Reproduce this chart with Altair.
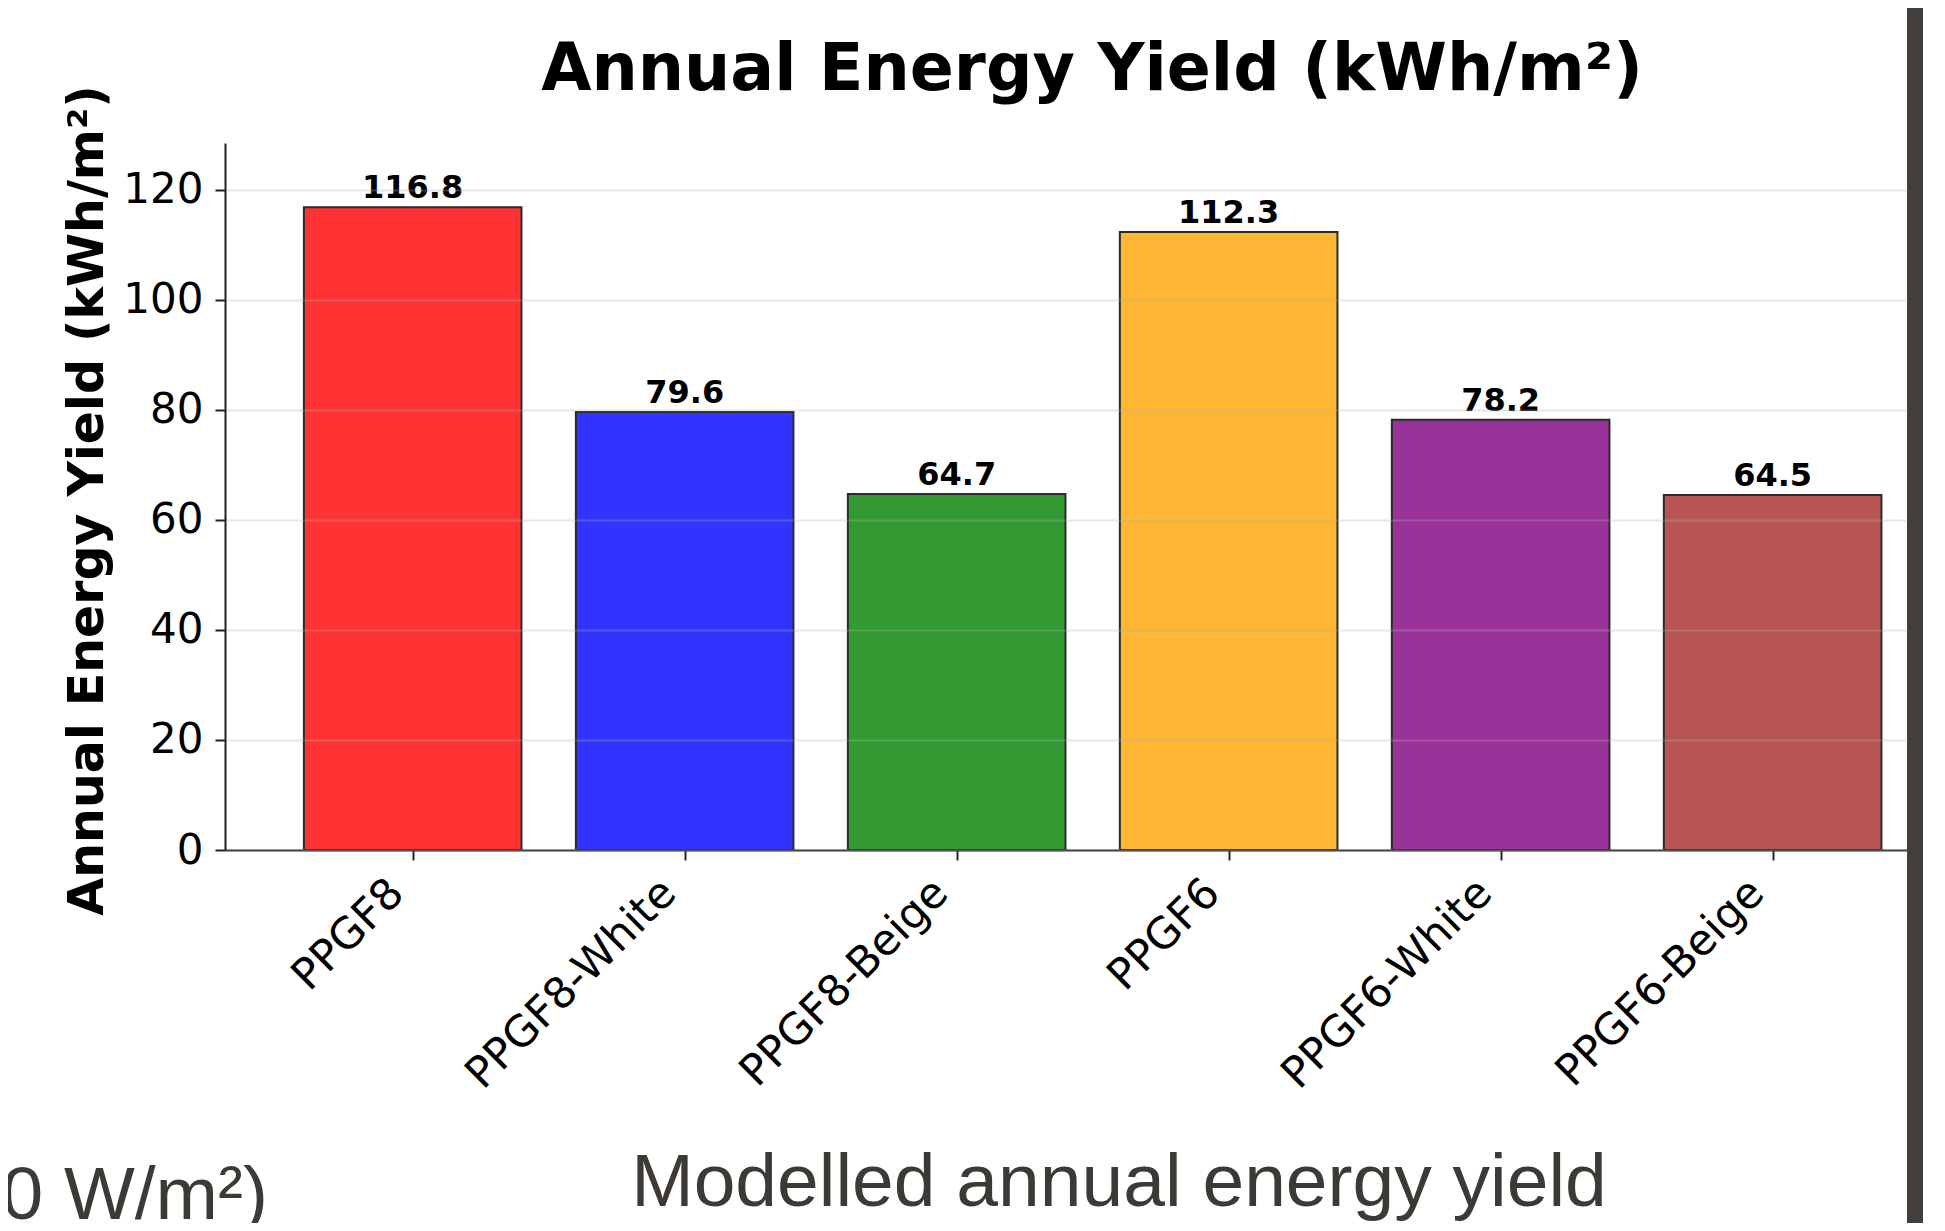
import json
import altair as alt
import pandas as pd

# ---- data ----
categories = ["PPGF8", "PPGF8-White", "PPGF8-Beige", "PPGF6", "PPGF6-White", "PPGF6-Beige"]
values = [116.8, 79.6, 64.7, 112.3, 78.2, 64.5]
bar_colors = ["#ff3333", "#3333ff", "#339933", "#ffb733", "#993399", "#b75555"]
y_ticks = [0, 20, 40, 60, 80, 100, 120]

title_text = "Annual Energy Yield (kWh/m²)"
slide_caption = "Modelled annual energy yield"
slide_left_fragment = "00 W/m²)"

df = pd.DataFrame({
    "category": categories,
    "value": values,
    "idx": list(range(len(categories))),
})
df["x0"] = df["idx"] - 0.4
df["x1"] = df["idx"] + 0.4

PLOT_W = 1682
PLOT_H = 707

x_scale = alt.Scale(domain=[-0.69, 5.494], nice=False, zero=False)
y_scale = alt.Scale(domain=[0, max(values) * 1.1], nice=False)

x_axis = alt.Axis(
    values=list(range(len(categories))),
    labelExpr=f"{json.dumps(categories)}[datum.value]",
    title=None, grid=False,
    tickSize=10, tickWidth=2, tickColor="#222222",
    domainColor="#222222", domainWidth=2,
    labelAngle=-45, labelAlign="right", labelBaseline="top",
    labelFont="DejaVu Sans", labelFontSize=43, labelColor="#000000",
    labelPadding=11, labelOffset=-31, labelOverlap=False, labelFlush=False,
    labelLimit=1000,
)

y_axis = alt.Axis(
    values=y_ticks, grid=True, gridColor="#b0b0b0", gridOpacity=0.3, gridWidth=2,
    tickSize=10, tickWidth=2, tickColor="#222222",
    domainColor="#222222", domainWidth=2,
    labelFont="DejaVu Sans", labelFontSize=42, labelColor="#000000", labelPadding=12,
    title=title_text, titleFont="DejaVu Sans", titleFontSize=49, titleFontWeight="bold",
    titleColor="#000000", titleAngle=270, titleAlign="center", titleBaseline="alphabetic",
    titleX=-123, titleY=357, zindex=1,
)

base = alt.Chart(df)

bars = base.mark_bar(stroke="#2b2b2b", strokeWidth=2).encode(
    x=alt.X("x0:Q", scale=x_scale, axis=x_axis),
    x2="x1:Q",
    y=alt.Y("value:Q", scale=y_scale, axis=y_axis),
    y2=alt.datum(0),
    color=alt.Color("category:N", scale=alt.Scale(domain=categories, range=bar_colors), legend=None),
)

value_labels = base.mark_text(
    font="DejaVu Sans", fontSize=32, fontWeight="bold", color="#000000",
    align="center", baseline="alphabetic", dy=-9,
).encode(
    x=alt.X("idx:Q", scale=x_scale),
    y=alt.Y("value:Q", scale=y_scale),
    text=alt.Text("value:Q", format=".1f"),
)

one = pd.DataFrame({"k": [0]})

title_mark = alt.Chart(one).mark_text(
    text=title_text, font="DejaVu Sans", fontSize=65, fontWeight="bold",
    color="#000000", align="center", baseline="alphabetic",
).encode(x=alt.value(867), y=alt.value(-53))

caption_mark = alt.Chart(one).mark_text(
    text=slide_caption, font="Liberation Sans", fontSize=75,
    color="#3d3935", align="center", baseline="alphabetic",
).encode(x=alt.value(894), y=alt.value(1063))

fragment_mark = alt.Chart(one).mark_text(
    text=slide_left_fragment, font="Liberation Sans", fontSize=75,
    color="#3d3935", align="right", baseline="alphabetic",
).encode(x=alt.value(43), y=alt.value(1076))

divider = alt.Chart(one).mark_rect(color="#433e3a").encode(
    x=alt.value(1682), x2=alt.value(1698), y=alt.value(-144), y2=alt.value(1090)
)

chart = alt.layer(
    bars, value_labels, title_mark, caption_mark, fragment_mark, divider
).properties(
    width=PLOT_W, height=PLOT_H,
    padding={"left": 217, "top": 135, "right": 30, "bottom": 373},
    autosize=alt.AutoSizeParams(type="none"),
    background="#ffffff",
).configure_view(stroke=None)

chart.save("out.html", embed_options={"renderer": "svg", "actions": False})
